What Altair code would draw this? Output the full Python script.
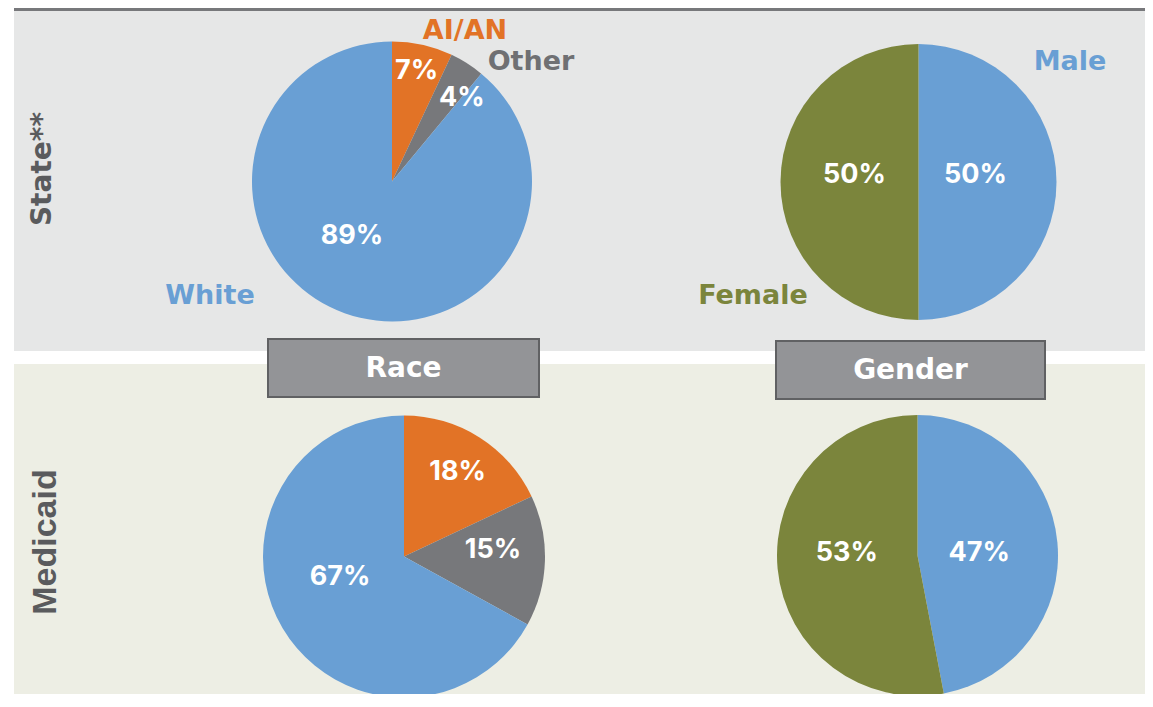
import altair as alt
import pandas as pd

# ---- data ----
race_cats = ["AI/AN", "Other", "White"]
state_race = [7, 4, 89]
medicaid_race = [18, 15, 67]
gender_cats = ["Male", "Female"]
state_gender = [50, 50]
medicaid_gender = [47, 53]
headers = ["Race", "Gender"]
row_labels = ["State**", "Medicaid"]

# ---- style ----
CAT_COLORS = {"AI/AN": "#e27326", "Other": "#77787b", "White": "#699fd4",
              "Male": "#699fd4", "Female": "#7b853c"}
TOP_BG = "#e6e7e7"
BOT_BG = "#edeee4"
HEAD_FILL = "#939497"
HEAD_STROKE = "#606163"
ROW_TXT = "#5a5b5d"
PCT_FONT = "Inter"
LAB_FONT = "DejaVu Sans"

W, H = 1137, 686
OX, OY = 8, 8


def px(x):
    return x - OX


def py(y):
    return y - OY


color_scale = alt.Scale(domain=list(CAT_COLORS.keys()), range=list(CAT_COLORS.values()))
one = pd.DataFrame({"a": [0]})


def by_cat(d, default):
    e = str(default)
    for k, v in d.items():
        e = f"(datum.cat === '{k}' ? {v} : {e})"
    return {"expr": e}


def pie(cats, vals, cx, cy, r, lab_r, lab_dx, lab_dy):
    df = pd.DataFrame({"cat": cats, "value": vals, "ord": list(range(len(cats))),
                       "label": [f"{v}%" for v in vals]})
    base = alt.Chart(df).encode(
        theta=alt.Theta("value:Q", stack=True),
        order=alt.Order("ord:Q"),
        x=alt.value(px(cx)),
        y=alt.value(py(cy)),
    )
    arc = base.mark_arc(radius=r).encode(
        color=alt.Color("cat:N", scale=color_scale, legend=None))
    txt = base.mark_text(
        radius=by_cat(lab_r, 80), dx=by_cat(lab_dx, 0), dy=by_cat(lab_dy, 0),
        font=PCT_FONT, fontSize=27, fontWeight="bold", color="white",
        align="center", baseline="middle",
    ).encode(text="label:N")
    return [arc, txt]


def rect(x1, x2, y1, y2, fill, stroke=None, sw=0):
    kw = dict(color=fill)
    if stroke:
        kw = dict(fill=fill, stroke=stroke, strokeWidth=sw)
    return alt.Chart(one).mark_rect(**kw).encode(
        x=alt.value(x1), x2=alt.value(x2), y=alt.value(y1), y2=alt.value(y2))


def label(text, x, y, color, size, weight="bold", font=LAB_FONT, angle=0):
    kw = dict(font=font, fontSize=size, fontWeight=weight, color=color,
              align="center", baseline="middle")
    if angle:
        kw["angle"] = angle
    return alt.Chart(pd.DataFrame({"t": [text]})).mark_text(**kw).encode(
        text="t:N", x=alt.value(px(x)), y=alt.value(py(y)))


layers = [
    rect(px(14), W, 0, 3, "#77787b"),
    rect(px(14), W, 3, py(351), TOP_BG),
    rect(px(14), W, py(364), H, BOT_BG),
]

layers += pie(race_cats, state_race, 392, 181.5, 140,
              {"AI/AN": 113, "Other": 108, "White": 65},
              {"Other": 12, "White": -18}, {"Other": 8, "White": -7})
layers += pie(gender_cats, state_gender, 918.5, 182, 138,
              {"Male": 57, "Female": 64}, {}, {"Male": -7, "Female": -7})
layers += pie(race_cats, medicaid_race, 404, 556.5, 141,
              {"AI/AN": 100, "Other": 89, "White": 65},
              {"White": -8}, {"Other": -9, "White": -13})
layers += pie(gender_cats, medicaid_gender, 917.5, 555.5, 140.5,
              {"Male": 62, "Female": 71}, {}, {"Male": 3, "Female": -9})

# category labels
layers += [
    label(race_cats[0], 465, 31, CAT_COLORS["AI/AN"], 27),
    label(race_cats[1], 531, 62, "#6f7073", 27),
    label(race_cats[2], 210, 296, CAT_COLORS["White"], 27),
    label(gender_cats[0], 1070, 62, CAT_COLORS["Male"], 27),
    label(gender_cats[1], 753, 296, CAT_COLORS["Female"], 27),
]

# header boxes
layers += [
    rect(px(268), px(539), py(339), py(397), HEAD_FILL, HEAD_STROKE, 2),
    rect(px(776), px(1045), py(341), py(399), HEAD_FILL, HEAD_STROKE, 2),
    label(headers[0], 403.5, 369, "white", 28),
    label(headers[1], 910.5, 371, "white", 28),
]

# row labels
layers += [
    label(row_labels[0], 43, 169, ROW_TXT, 28, angle=270),
    label(row_labels[1], 46, 542, ROW_TXT, 34, font="Liberation Sans", angle=270),
]

chart = alt.layer(*layers).properties(
    width=W, height=H, padding=0, autosize=alt.AutoSizeParams(type="none"),
    background="white",
).configure_view(stroke=None)

chart.save("out.html", embed_options={"renderer": "svg", "actions": False})
